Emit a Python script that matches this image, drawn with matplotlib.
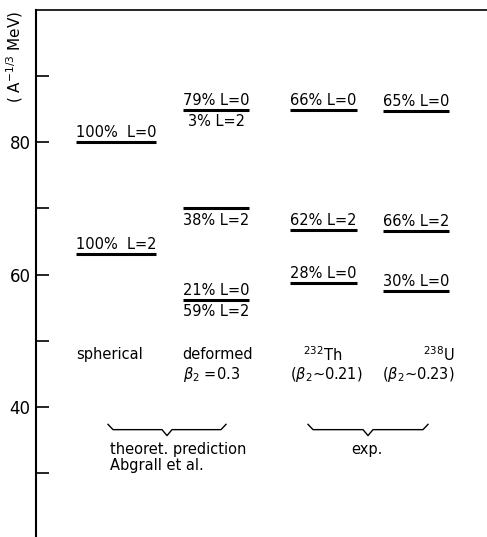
import matplotlib
matplotlib.use('Agg')
import matplotlib.pyplot as plt

# columns of the level scheme
columns = ['spherical', 'deformed', '232Th', '238U']

# levels: column index, energy (A^-1/3 MeV), label above / below the line
level_col = [0, 0, 1, 1, 1, 2, 2, 2, 3, 3, 3]
level_energy = [80.0, 63.1, 84.9, 70.0, 56.2, 84.9, 66.7, 58.7, 84.75, 66.6, 57.55]
label_above = ['100%  L=0', '100%  L=2', '79% L=0', '', '21% L=0',
               '66% L=0', '62% L=2', '28% L=0',
               '65% L=0', '66% L=2', '30% L=0']
label_below = ['', '', '3% L=2', '38% L=2', '59% L=2',
               '', '', '', '', '', '']

yticks = [30, 40, 50, 60, 70, 80, 90]
ytick_labels = ['', '40', '', '60', '', '80', '']

# layout (x in units of 100 px from the axis)
col_x = [0.80, 1.80, 2.875, 3.80]
col_half = [0.40, 0.33, 0.335, 0.33]

fs = 10.5
fig = plt.figure(figsize=(4.87, 5.37), dpi=100)
ax = fig.add_axes([36 / 487, 0.0, 1 - 36 / 487, 1 - 9.5 / 537])
ax.set_xlim(0, 4.51)
ax.set_ylim(20.4, 100)

for c, e, up, lo in zip(level_col, level_energy, label_above, label_below):
    x = col_x[c]
    h = col_half[c]
    ax.hlines(e, x - h, x + h, color='black', lw=2.2)
    if up:
        ax.text(x, e + 0.75, up, ha='center', va='baseline', fontsize=fs)
    if lo:
        ax.text(x, e - 0.7, lo, ha='center', va='top', fontsize=fs)

# column captions
row1, row2 = 47.9, 44.9
ax.text(0.74, row1, 'spherical', ha='center', va='center', fontsize=fs)
ax.text(1.46, row1, 'deformed', ha='left', va='center', fontsize=fs)
ax.text(1.47, row2, r'$\beta_2$ =0.3', ha='left', va='center', fontsize=fs)
ax.text(2.87, row1, r'$^{232}$Th', ha='center', va='center', fontsize=fs)
ax.text(2.90, row2, r'($\beta_2$∼0.21)', ha='center', va='center', fontsize=fs)
ax.text(4.03, row1, r'$^{238}$U', ha='center', va='center', fontsize=fs)
ax.text(3.82, row2, r'($\beta_2$∼0.23)', ha='center', va='center', fontsize=fs)


def brace(x0, x1, y, up=0.8, down=0.9, d=0.05):
    xc = (x0 + x1) / 2
    xs = [x0, x0 + d, xc - d, xc, xc + d, x1 - d, x1]
    ys = [y + up, y, y, y - down, y, y, y + up]
    ax.plot(xs, ys, color='black', lw=1.0)


brace(0.72, 1.90, 36.6)
brace(2.72, 3.92, 36.6)
ax.text(0.74, 33.6, 'theoret. prediction', ha='left', va='center', fontsize=fs)
ax.text(0.74, 31.2, 'Abgrall et al.', ha='left', va='center', fontsize=fs)
ax.text(3.31, 33.6, 'exp.', ha='center', va='center', fontsize=fs)

# axes styling
for s in ['right', 'bottom']:
    ax.spines[s].set_visible(False)
ax.spines['left'].set_linewidth(1.5)
ax.spines['top'].set_linewidth(1.2)
ax.set_xticks([])
ax.set_yticks(yticks)
ax.set_yticklabels(ytick_labels, fontsize=12)
ax.tick_params(axis='y', direction='in', length=9, width=1.2, pad=4)

fig.text(15 / 487, 1 - 57 / 537, r'( A$^{-1/3}$ MeV)', rotation=90,
         ha='center', va='center', fontsize=11)

fig.savefig('out.png', dpi=100)
